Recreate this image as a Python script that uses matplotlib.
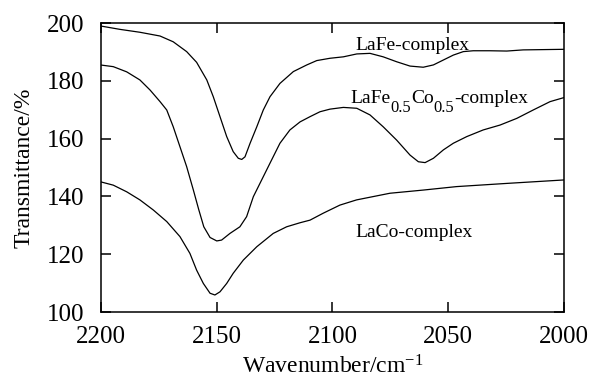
import numpy as np
import matplotlib
matplotlib.use('Agg')
import matplotlib.pyplot as plt
import matplotlib.transforms as mtransforms

plt.rcParams['font.family'] = ['Liberation Serif', 'DejaVu Serif']
plt.rcParams['mathtext.fontset'] = 'custom'
plt.rcParams['mathtext.rm'] = 'Liberation Serif'
plt.rcParams['mathtext.it'] = 'Liberation Serif:italic'

# LaFe-complex
lafe_x = [2200.4, 2191.8, 2183.2, 2174.5, 2168.8, 2163, 2158.7, 2154.3, 2151.5, 2148.6,
          2145.7, 2142.9, 2140.7, 2139.2, 2137.8, 2135.6, 2132.7, 2129.9, 2127,
          2122.7, 2116.9, 2111.1, 2106.8, 2101.1, 2095.3, 2089.5, 2083.8, 2078.1,
          2072.3, 2066.5, 2060.8, 2056.4, 2052.1, 2047.8, 2043.5, 2039.2, 2032,
          2024.7, 2017.6, 2000]
lafe_y = [199.0, 197.8, 196.8, 195.5, 193.5, 190.1, 186.4, 180.3, 174.5, 167.6,
          160.7, 155.5, 153.2, 152.8, 153.7, 158.4, 164.1, 169.9, 174.5,
          179.1, 183.2, 185.5, 187.0, 187.8, 188.3, 189.3, 189.5, 188.3,
          186.6, 185.1, 184.7, 185.5, 187.2, 188.9, 190.1, 190.4, 190.4,
          190.3, 190.7, 190.9]

# LaFe0.5Co0.5-complex
mix_x = [2200.4, 2194.7, 2188.9, 2183.2, 2178.8, 2174.5, 2171.6, 2168.8, 2165.9,
         2163, 2160.1, 2157.8, 2155.6, 2152.9, 2150.0, 2147.9, 2144.3, 2140,
         2137.1, 2134.2, 2130.6, 2127, 2122.7, 2118.4, 2114, 2109.7, 2105.4,
         2101.1, 2095.3, 2089.5, 2083.8, 2078.1, 2072.3, 2066.5, 2062.9, 2060.0,
         2056.4, 2052.1, 2047.8, 2042.0, 2034.9, 2027.6, 2020.4, 2013.3, 2006.0, 2000]
mix_y = [185.5, 184.9, 183.1, 180.3, 176.8, 172.8, 169.9, 164.1, 157.2,
         150.3, 142.2, 135.5, 129.5, 125.8, 124.6, 124.9, 127.2, 129.5,
         133.0, 139.9, 145.7, 151.5, 158.4, 163.0, 165.8, 167.6, 169.3,
         170.2, 170.8, 170.5, 168.2, 164.1, 159.5, 154.3, 152.0, 151.7,
         153.2, 156.1, 158.4, 160.7, 163.0, 164.7, 167.0, 169.9, 172.8, 174.2]

# LaCo-complex
laco_x = [2200.4, 2194.7, 2188.9, 2183.2, 2177.4, 2171.6, 2165.9, 2161.6, 2158.7,
          2155.8, 2152.9, 2150.8, 2148.6, 2145.7, 2142.9, 2138.5, 2132.7, 2125.6,
          2119.8, 2114, 2109.7, 2104, 2096.8, 2089.6, 2075.2, 2060.8, 2046.4,
          2024.8, 2000]
laco_y = [145.1, 143.9, 141.6, 138.8, 135.3, 131.3, 126.1, 120.3, 114.5,
          109.9, 106.5, 105.9, 107.0, 109.9, 113.4, 118.0, 122.6, 127.2,
          129.5, 130.9, 131.8, 134.2, 137.0, 138.8, 141.1, 142.2, 143.4,
          144.5, 145.7]

# label pieces: (text, is_subscript)
lafe_label = [('LaFe-complex', False)]
mix_label = [('LaFe', False), ('0.5', True), ('Co', False), ('0.5', True), ('-complex', False)]
laco_label = [('LaCo-complex', False)]
label_pos = [(2090.3, 190.7), (2092.4, 172.2), (2090.3, 126.1)]

fig = plt.figure(figsize=(5.89, 3.81), dpi=100)
ax = fig.add_axes([0.1715, 0.181, 0.786, 0.7586])

for xs, ys in [(lafe_x, lafe_y), (mix_x, mix_y), (laco_x, laco_y)]:
    ax.plot(xs, ys, color='black', lw=0.9)

renderer = fig.canvas.get_renderer()


def rich_text(x, y, parts, size=14):
    """Write text pieces one after another, subscripts smaller and lowered"""
    xoff = 0.0
    for s, sub in parts:
        fs = size * 0.85 if sub else size
        dy = -6.5 if sub else 0
        tr = mtransforms.offset_copy(ax.transData, fig=fig, x=xoff, y=dy, units='points')
        t = ax.text(x, y, s, transform=tr, fontsize=fs, ha='left', va='baseline')
        xoff += t.get_window_extent(renderer).width * 72.0 / fig.dpi


for parts, (tx, ty) in zip([lafe_label, mix_label, laco_label], label_pos):
    rich_text(tx, ty, parts)

ax.set_xlim(2200, 2000)
ax.set_ylim(100, 200)
ax.set_xticks([2200, 2150, 2100, 2050, 2000])
ax.set_yticks([100, 120, 140, 160, 180, 200])
ax.tick_params(direction='in', length=7, width=1.1, top=True, right=True,
               labelsize=18)
ax.tick_params(axis='y', pad=12)
ax.tick_params(axis='x', pad=10)
for s in ax.spines.values():
    s.set_linewidth(1.1)

ax.set_xlabel(r'Wavenumber/cm$^{-1}$', fontsize=17, labelpad=5)
ax.set_ylabel('Transmittance/%', fontsize=17, labelpad=9)

fig.savefig('out.png', dpi=100)
